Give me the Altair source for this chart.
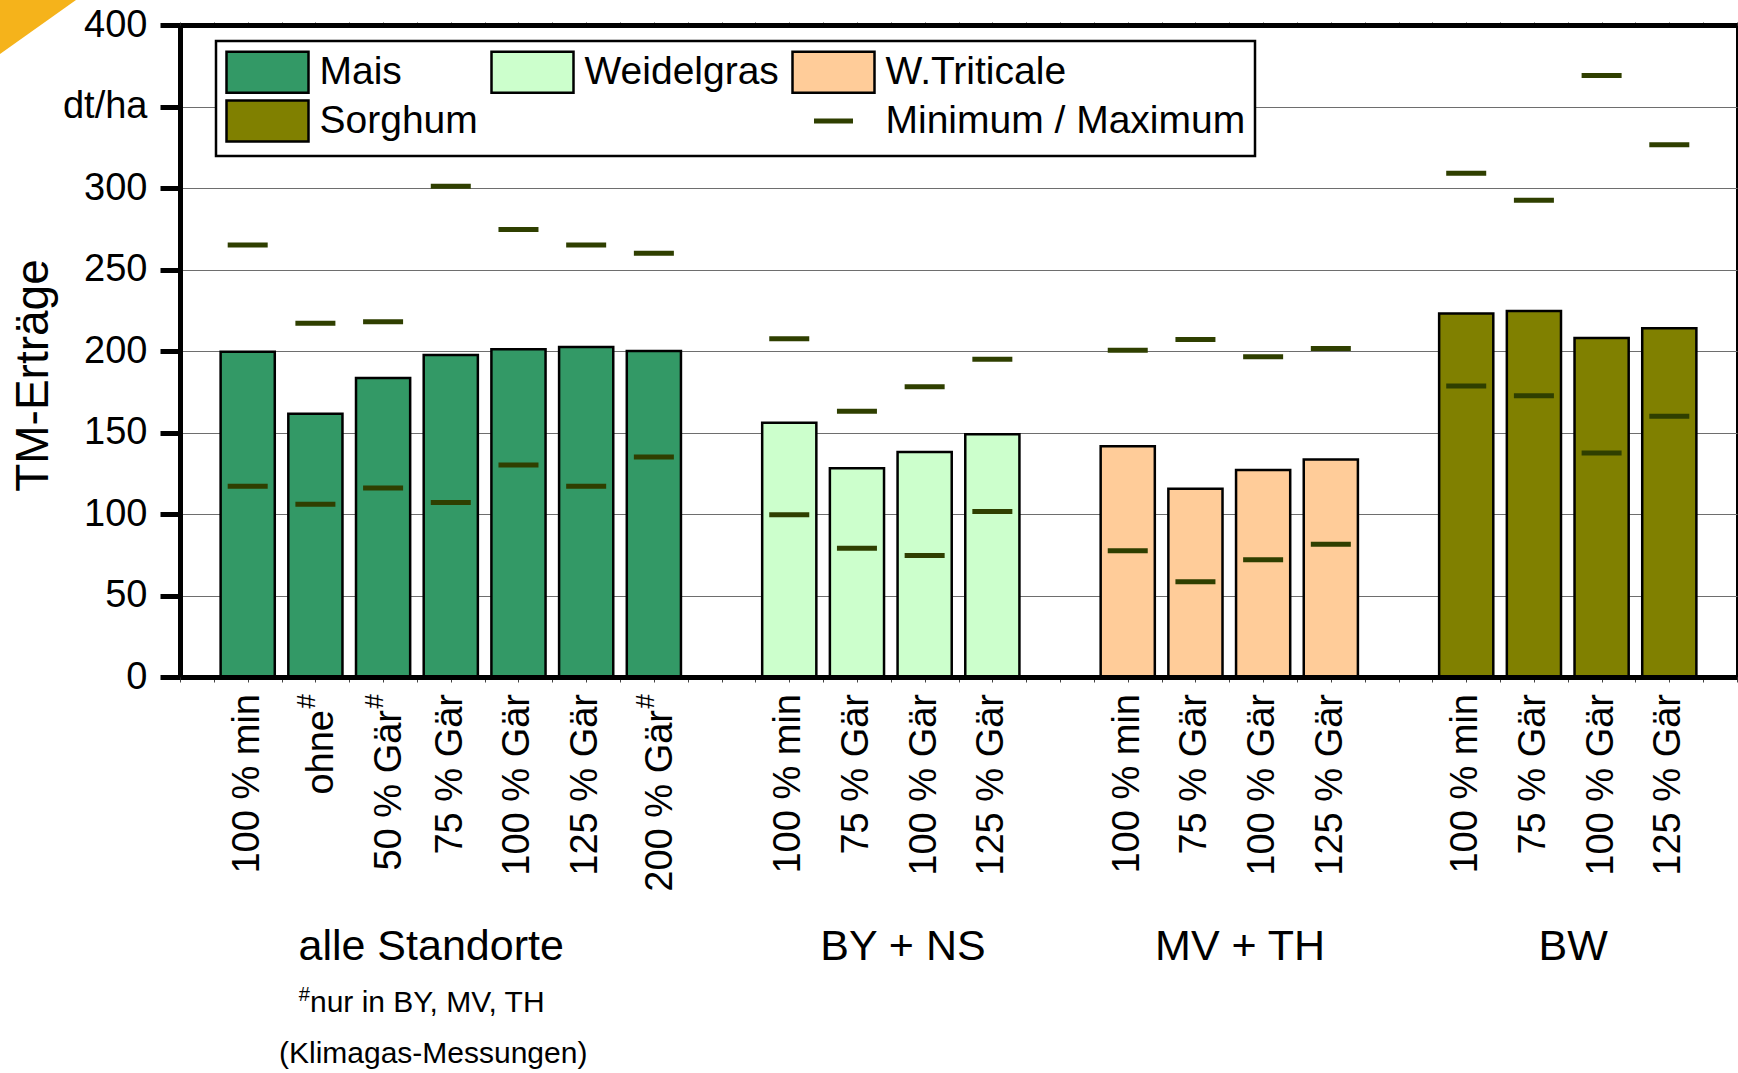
import altair as alt
import pandas as pd

FONT = "Liberation Sans"

# Crops, fill colours and the min/max marker
crops = ["Mais", "Weidelgras", "W.Triticale", "Sorghum"]
crop_colors = ["#339966", "#CCFFCC", "#FFCC99", "#808000"]
minmax_name = "Minimum / Maximum"
minmax_color = "#2F3F00"

# Treatments (fertilisation variants)
treat_mais = ["100 % min", "ohne", "50 % Gär", "75 % Gär", "100 % Gär", "125 % Gär", "200 % Gär"]
treat_short = ["100 % min", "75 % Gär", "100 % Gär", "125 % Gär"]
# 1 = only at BY, MV, TH (marked with #)
hash_mais = [0, 1, 1, 0, 0, 0, 1]
hash_short = [0, 0, 0, 0]

# Slots on the category axis, one empty slot between the crop groups
slot_mais = [1, 2, 3, 4, 5, 6, 7]
slot_weidel = [9, 10, 11, 12]
slot_trit = [14, 15, 16, 17]
slot_sorg = [19, 20, 21, 22]

# Mean dry-matter yields, dt/ha
mean_mais = [199.5, 161.5, 183.5, 197.5, 201, 202.5, 200]
mean_weidel = [156, 128, 138, 149]
mean_trit = [141.5, 115.5, 127, 133.5]
mean_sorg = [223, 224.5, 208, 214]

# Minimum yields
min_mais = [117, 106, 116, 107, 130, 117, 135]
min_weidel = [99.5, 79, 74.5, 101.5]
min_trit = [77.5, 58.5, 72, 81.5]
min_sorg = [178.5, 172.5, 137.5, 160]

# Maximum yields
max_mais = [265, 217, 218, 301, 274.5, 265, 260]
max_weidel = [207.5, 163, 178, 195]
max_trit = [200.5, 207, 196.5, 201.5]
max_sorg = [309, 292.5, 369, 326.5]

# Group captions below the axis
group_names = ["alle Standorte", "BY + NS", "MV + TH", "BW"]
group_centers = [3.71, 10.68, 15.66, 20.58]

# Footnote lines
note_lines = ["nur in BY, MV, TH", "(Klimagas-Messungen)"]
note_pos = [1.92, 3.74]

y_ticks = [0, 50, 100, 150, 200, 250, 300, 350, 400]
x_steps = [i * 0.5 for i in range(47)]

W, H = 1557, 652

rows = []
for crop, color, treats, hashes, slots, means, mins, maxs in [
    (crops[0], crop_colors[0], treat_mais, hash_mais, slot_mais, mean_mais, min_mais, max_mais),
    (crops[1], crop_colors[1], treat_short, hash_short, slot_weidel, mean_weidel, min_weidel, max_weidel),
    (crops[2], crop_colors[2], treat_short, hash_short, slot_trit, mean_trit, min_trit, max_trit),
    (crops[3], crop_colors[3], treat_short, hash_short, slot_sorg, mean_sorg, min_sorg, max_sorg),
]:
    for t, h, s, m, lo, hi in zip(treats, hashes, slots, means, mins, maxs):
        rows.append(dict(crop=crop, color=color, label=t, hash=h, pos=s, mean=m, lo=lo, hi=hi))
df = pd.DataFrame(rows)

xs = alt.Scale(domain=[0, 23], nice=False, zero=False)
ys = alt.Scale(domain=[0, 400], nice=False)


def frame_axis(orient, tick_len):
    return alt.Axis(
        orient=orient, values=x_steps, labels=False, title=None, grid=False,
        domainColor="black", domainWidth=5, tickColor="#444444", tickWidth=1,
        tickSize=tick_len, zindex=1,
    )


y_axis = alt.Axis(
    orient="left",
    values=y_ticks,
    labelExpr="datum.value == 350 ? 'dt/ha' : datum.label",
    labelFont=FONT, labelFontSize=38, labelColor="black", labelPadding=13,
    tickSize=20, tickWidth=5, tickColor="black",
    domainWidth=5, domainColor="black",
    grid=True, gridColor="#6E6E6E", gridWidth=1.2,
    title="TM-Erträge", titleFont=FONT, titleFontSize=46, titleFontWeight="normal",
    titleColor="black", titleAngle=270, titleX=-147, titleY=350,
    titleAlign="center", titleBaseline="middle",
)

bars = (
    alt.Chart(df)
    .transform_calculate(x0="datum.pos - 0.4", x1="datum.pos + 0.4")
    .mark_bar(stroke="black", strokeWidth=2.5)
    .encode(
        x=alt.X("x0:Q", scale=xs, axis=frame_axis("bottom", 5)),
        x2="x1:Q",
        y=alt.Y("mean:Q", scale=ys, axis=y_axis),
        y2=alt.datum(0),
        fill=alt.Fill("color:N", scale=None),
    )
)

lo_ticks = alt.Chart(df).mark_tick(
    orient="horizontal", size=40, thickness=5, color=minmax_color, opacity=1
).encode(
    x=alt.X("pos:Q", scale=xs, axis=None),
    y=alt.Y("lo:Q", scale=ys, axis=None),
)

hi_ticks = alt.Chart(df).mark_tick(
    orient="horizontal", size=40, thickness=5, color=minmax_color, opacity=1
).encode(
    x=alt.X("pos:Q", scale=xs, axis=frame_axis("top", 3)),
    y=alt.Y("hi:Q", scale=ys, axis=None),
)

label_style = dict(angle=270, align="right", baseline="middle", font=FONT, color="black")

plain_labels = alt.Chart(df).transform_filter("datum.hash == 0").mark_text(
    fontSize=38, **label_style
).encode(x=alt.X("pos:Q", scale=xs, axis=None), y=alt.value(H + 17), text="label:N")

hash_labels = alt.Chart(df).transform_filter("datum.hash == 1").mark_text(
    fontSize=38, dx=-16, dy=7, **label_style
).encode(x=alt.X("pos:Q", scale=xs, axis=None), y=alt.value(H + 17), text="label:N")

hash_marks = alt.Chart(df).transform_filter("datum.hash == 1").mark_text(
    text="#", fontSize=26, dy=-8, **label_style
).encode(x=alt.X("pos:Q", scale=xs, axis=None), y=alt.value(H + 17))

groups = alt.Chart(pd.DataFrame({"name": group_names, "pos": group_centers})).mark_text(
    align="center", baseline="alphabetic", font=FONT, fontSize=43, color="black"
).encode(x=alt.X("pos:Q", scale=xs, axis=None), y=alt.value(H + 283), text="name:N")

note_df = pd.DataFrame({"t": note_lines, "pos": note_pos})
note1 = alt.Chart(note_df.iloc[[0]]).mark_text(
    align="left", baseline="alphabetic", font=FONT, fontSize=30, color="black"
).encode(x=alt.X("pos:Q", scale=xs, axis=None), y=alt.value(H + 335), text="t:N")
note1_hash = alt.Chart(note_df.iloc[[0]]).mark_text(
    text="#", align="right", baseline="alphabetic", font=FONT, fontSize=20,
    color="black", dy=-11
).encode(x=alt.X("pos:Q", scale=xs, axis=None), y=alt.value(H + 335))
note2 = alt.Chart(note_df.iloc[[1]]).mark_text(
    align="center", baseline="alphabetic", font=FONT, fontSize=30, color="black"
).encode(x=alt.X("pos:Q", scale=xs, axis=None), y=alt.value(H + 386), text="t:N")

# Amber corner of the slide frame
corner = alt.Chart(pd.DataFrame({"k": [0]})).mark_point(
    shape="M-1,-1L1,-1L-1,0.42Z", filled=True, size=5776, fill="#F5B31B",
    opacity=1, strokeWidth=0
).encode(x=alt.value(38 - 180), y=alt.value(38 - 25))

# Legend key: four crop swatches, a blank cell and the min/max dash
SWATCH = "M-2,-1H2V1H-2Z"
DASH = "M-0.89,-0.061H0.89V0.061H-0.89Z"
SPACER = "\u00a0" * 4
legend_names = crops + [SPACER, minmax_name]
legend_fill = crop_colors + ["#FFFFFF", minmax_color]
legend_stroke = ["#000000"] * 4 + ["#FFFFFF", minmax_color]
legend_shape = [SWATCH] * 5 + [DASH]


def key_legend():
    return alt.Legend(title=None, direction="horizontal", columns=3)


key = (
    alt.Chart(pd.DataFrame({"entry": legend_names}))
    .transform_filter("false")
    .mark_point(filled=True, opacity=1)
    .encode(
        fill=alt.Fill("entry:N", scale=alt.Scale(domain=legend_names, range=legend_fill),
                      legend=key_legend()),
        stroke=alt.Stroke("entry:N", scale=alt.Scale(domain=legend_names, range=legend_stroke),
                          legend=key_legend()),
        shape=alt.Shape("entry:N", scale=alt.Scale(domain=legend_names, range=legend_shape),
                        legend=key_legend()),
    )
)

chart = (
    alt.layer(bars, lo_ticks, hi_ticks, plain_labels, hash_labels, hash_marks,
              groups, note1, note1_hash, note2, corner, key)
    .resolve_axis(x="independent", y="independent")
    .properties(width=W, height=H, padding=0, background="white")
    .configure_view(stroke="black", strokeWidth=2)
    .configure_legend(
        orient="none", legendX=36, legendY=16, direction="horizontal", columns=3,
        columnPadding=8, rowPadding=-3, padding=9,
        strokeColor="black", strokeWidth=2.5, fillColor="white",
        labelFont=FONT, labelFontSize=39, labelColor="black", labelOffset=30,
        labelLimit=800, symbolSize=1681, symbolOffset=20.5, symbolStrokeWidth=2.5,
        symbolOpacity=1, symbolType=SWATCH,
    )
)

chart.save("out.html", embed_options={"renderer": "svg", "actions": False})
